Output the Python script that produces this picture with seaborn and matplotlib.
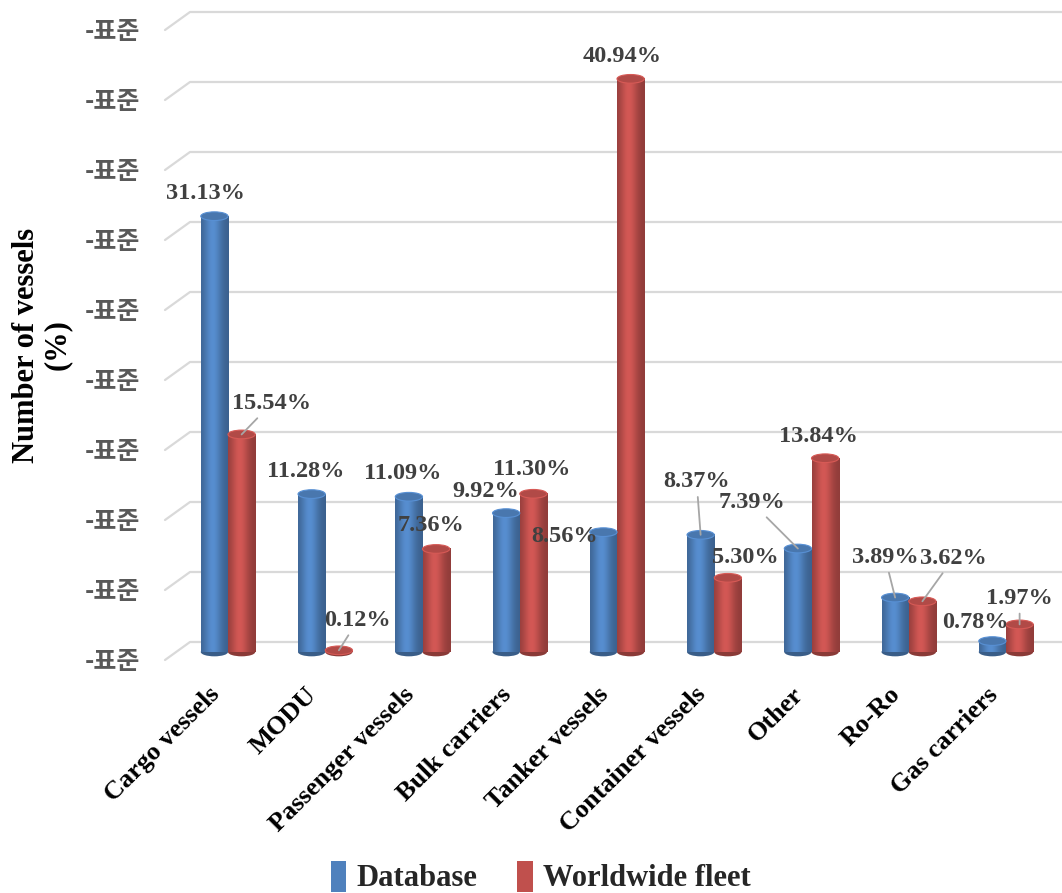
import numpy as np
import pandas as pd
import matplotlib
matplotlib.use("Agg")
import matplotlib.pyplot as plt
import matplotlib.transforms as mtransforms
from matplotlib.lines import Line2D
from matplotlib.patches import Ellipse, Patch
from matplotlib.colors import to_rgb
import seaborn as sns

# ---- data -------------------------------------------------------------
categories = ["Cargo vessels", "MODU", "Passenger vessels", "Bulk carriers",
              "Tanker vessels", "Container vessels", "Other", "Ro-Ro",
              "Gas carriers"]
database = [31.13, 11.28, 11.09, 9.92, 8.56, 8.37, 7.39, 3.89, 0.78]
worldwide = [15.54, 0.12, 7.36, 11.30, 40.94, 5.30, 13.84, 3.62, 1.97]
series = ["Database", "Worldwide fleet"]
y_ticks = [0, 5, 10, 15, 20, 25, 30, 35, 40, 45]
y_tick_text = "-표준"
y_title = "Number of vessels\n(%)"

# label placement: pixel offset (dx, dy-down) from the cap centre, leader line flag
db_label_pos = [(-9, -23, False), (-6, -23, False), (-6, -23, False),
                (-20, -22, False), (-39, 4, False), (-4, -53, True),
                (-46, -46, True), (-10, -40, True), (-17, -19, False)]
ww_label_pos = [(30, -31, True), (19, -30, True), (-5, -23, False),
                (-2, -24, False), (-8, -22, False), (17, -20, False),
                (-7, -22, False), (31, -43, True), (0, -26, True)]

df = pd.DataFrame({
    "category": categories * 2,
    "series": [series[0]] * len(categories) + [series[1]] * len(categories),
    "value": database + worldwide,
})

colors = {"Database": "#4f81bd", "Worldwide fleet": "#c0504d"}

sns.set_theme(style="white")
plt.rcParams["font.family"] = ["Liberation Serif", "DejaVu Serif"]

W, H = 1062, 893
DPI = 100
fig = plt.figure(figsize=(W / DPI, H / DPI), dpi=DPI)
fig.patch.set_facecolor("white")

# plot area: y = 0 sits at pixel row 652, 14 px per percent
ax_left, ax_bottom_px = 163, 652
ax = fig.add_axes([ax_left / W, (H - ax_bottom_px) / H,
                   (W - ax_left) / W, ax_bottom_px / H])
ax.set_facecolor("none")

sns.barplot(data=df, x="category", y="value", hue="series", palette=colors,
            width=0.56, saturation=1, legend=False, ax=ax, zorder=2)

y_top = ax_bottom_px / 14.0
x_lo = -(228 - ax_left) / 97.25
x_hi = x_lo + (W - ax_left) / 97.25


def body_gradient(color):
    c = np.array(to_rgb(color))
    t = np.linspace(0, 1, 80)
    prof = 0.74 + 0.36 * np.exp(-((t - 0.42) / 0.32) ** 2)
    img = np.clip(c[None, :] * prof[:, None], 0, 1)
    return img[None, :, :]


cap_h = 0.62  # cap ellipse height in data units
for container, offsets in zip(ax.containers, [db_label_pos, ww_label_pos]):
    for bar, (dx, dy, leader) in zip(container, offsets):
        x0, w, h = bar.get_x(), bar.get_width(), bar.get_height()
        base = bar.get_facecolor()[:3]
        bar.set_alpha(0)
        xc = x0 + w / 2
        dark = np.array(base) * 0.72
        ax.add_patch(Ellipse((xc, 0), w, cap_h, facecolor=dark,
                             edgecolor="none", zorder=2.9, clip_on=False))
        ax.imshow(body_gradient(base), extent=(x0, x0 + w, 0, h),
                  aspect="auto", interpolation="bilinear", zorder=3)
        ax.add_patch(Ellipse((xc, h), w, cap_h,
                             facecolor=np.clip(np.array(base) * 0.92, 0, 1),
                             edgecolor=np.clip(np.array(base) * 1.12, 0, 1),
                             lw=0.8, zorder=3.2, clip_on=False))
        arrow = dict(arrowstyle="-", color="#a6a6a6", lw=1.3,
                     shrinkA=1, shrinkB=0) if leader else None
        ax.annotate(f"{h:.2f}%", xy=(xc, h), xytext=(dx, -dy),
                    textcoords="offset pixels", ha="center", va="center",
                    fontsize=17.5, fontweight="bold", color="#404040",
                    zorder=5, arrowprops=arrow, annotation_clip=False)

ax.set_xlim(x_lo, x_hi)
ax.set_ylim(0, y_top)
ax.set_xticks([])
ax.set_yticks([])
ax.set_xlabel("")
ax.set_ylabel("")
for s in ax.spines.values():
    s.set_visible(False)

# perspective gridlines: short slanted floor edge, then the back-wall line
to_px = ax.transData.transform
ident = mtransforms.IdentityTransform()
for v in y_ticks:
    fx, fy = to_px((x_lo, v))
    xs = [fx + 2, fx + 27, W]
    ys = [fy - 8, fy + 10, fy + 10]
    ax.add_line(Line2D(xs, ys, transform=ident, color="#d9d9d9", lw=1.6,
                       zorder=0.5, clip_on=False))

# y tick labels in front of the floor edges
for v in y_ticks:
    fx, fy = to_px((x_lo, v))
    fig.text(140 / W, (fy - 10) / H, y_tick_text, ha="right", va="center",
             fontsize=18, fontweight="bold", color="#595959",
             family=["Noto Sans CJK KR", "DejaVu Sans"])

# category labels, rotated
for i, cat in enumerate(categories):
    cx, _ = to_px((i, 0))
    ax.text(cx - 12, H - 691, cat, transform=ident, rotation=45,
            rotation_mode="anchor", ha="right", va="center",
            fontsize=19, fontweight="bold", color="black")

fig.text(42 / W, 1 - 345 / H, y_title, rotation=90, ha="center",
         va="center", multialignment="center", fontsize=22,
         fontweight="bold", color="black", linespacing=1.05)

handles = [Patch(facecolor=colors[s], edgecolor="none") for s in series]
fig.legend(handles, series, loc="center", bbox_to_anchor=(541 / W, 1 - 877 / H),
           ncol=2, frameon=False, handlelength=0.5, handleheight=1.2,
           handletextpad=0.35, columnspacing=1.3,
           prop={"family": ["Liberation Serif"], "weight": "bold", "size": 22})

fig.savefig("out.png", dpi=DPI, facecolor="white")
